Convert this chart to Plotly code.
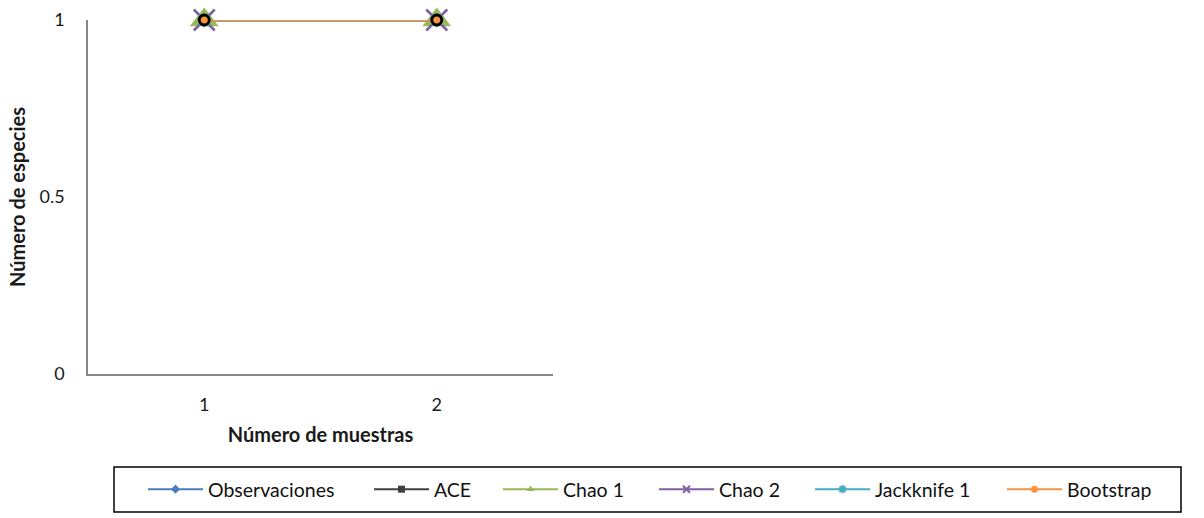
import plotly.graph_objects as go

muestras = [1, 2]
series_names = ["Observaciones", "ACE", "Chao 1", "Chao 2", "Jackknife 1", "Bootstrap"]
observaciones = [1, 1]
ace = [1, 1]
chao1 = [1, 1]
chao2 = [1, 1]
jackknife1 = [1, 1]
bootstrap = [1, 1]
y_ticks = [0, 0.5, 1]
y_tick_labels = ["0", "0.5", "1"]

values = [observaciones, ace, chao1, chao2, jackknife1, bootstrap]
colors = ["#4A7EBB", "#404040", "#98B954", "#7D60A0", "#46AAC5", "#F69240"]
plot_markers = [
    dict(symbol="diamond", size=9, color="#4A7EBB"),
    dict(symbol="square", size=9, color="#404040"),
    dict(symbol="triangle-up", size=25, color="#98B954"),
    dict(symbol="x-thin-open", size=21, color="#7D60A0", line=dict(color="#7D60A0", width=2.5)),
    dict(symbol="asterisk-open", size=12, color="#46AAC5", line=dict(color="#46AAC5", width=2)),
    dict(symbol="circle", size=10, color="#F69240", line=dict(color="#000000", width=2.8)),
]
legend_markers = [
    dict(symbol="diamond", size=7, color="#4A7EBB"),
    dict(symbol="square", size=7, color="#404040"),
    dict(symbol="triangle-up", size=7, color="#98B954"),
    dict(symbol="x-thin-open", size=7, color="#7D60A0", line=dict(color="#7D60A0", width=2)),
    dict(symbol="asterisk-open", size=7, color="#46AAC5", line=dict(color="#46AAC5", width=2)),
    dict(symbol="circle", size=7, color="#F69240"),
]
legend_widths = [156, 59, 86, 86, 122, 100]

fig = go.Figure()
for name, vals, col, mk in zip(series_names, values, colors, plot_markers):
    fig.add_trace(go.Scatter(
        x=muestras, y=vals, name=name, mode="lines+markers",
        line=dict(color=col, width=2.5), marker=mk,
        showlegend=False, cliponaxis=False, hoverinfo="x+y+name"))
for name, col, mk, lw in zip(series_names, colors, legend_markers, legend_widths):
    fig.add_trace(go.Scatter(
        x=[None], y=[None], name=name, mode="lines+markers",
        line=dict(color=col, width=2), marker=mk, legendwidth=lw))

font_family = "Lato, 'Open Sans', sans-serif"
W, H = 1204, 518
L, R, T, B = 88, 651, 20, 144
pw, ph = W - L - R, H - T - B

def px_x(p):
    return (p - L) / pw

def px_y(p):
    return (H - B - p) / ph

fig.add_shape(type="rect", xref="paper", yref="paper",
              x0=px_x(114), x1=px_x(1181), y0=px_y(512), y1=px_y(467),
              line=dict(color="#000000", width=1.5), fillcolor="rgba(0,0,0,0)")

fig.update_layout(
    width=W, height=H,
    margin=dict(l=L, r=R, t=T, b=B, autoexpand=False),
    paper_bgcolor="white", plot_bgcolor="white",
    font=dict(family=font_family, size=18, color="#1a1a1a"),
    showlegend=True,
    legend=dict(
        orientation="h", x=px_x(1172), xanchor="right",
        y=px_y(489.5), yanchor="middle",
        itemwidth=55, borderwidth=0, bgcolor="rgba(0,0,0,0)",
        font=dict(family=font_family, size=19.5, color="#111111"),
        itemclick=False, itemdoubleclick=False),
    xaxis=dict(
        range=[0.5, 2.5], tickvals=muestras, ticktext=[str(m) for m in muestras],
        showgrid=False, zeroline=False, showline=True, linecolor="#868686", linewidth=1.5,
        ticks="", ticklabelstandoff=14,
        tickfont=dict(size=18),
        title=dict(text="<b>Número de muestras</b>", standoff=14,
                   font=dict(size=20, family=font_family))),
    yaxis=dict(
        range=[0, 1], tickvals=y_ticks, ticktext=y_tick_labels,
        showgrid=False, zeroline=False, showline=True, linecolor="#868686", linewidth=1.5,
        ticks="", ticklabelstandoff=18,
        tickfont=dict(size=18),
        title=dict(text="<b>Número de especies</b>", standoff=9,
                   font=dict(size=20, family=font_family))),
)

fig.write_html("out.html")
